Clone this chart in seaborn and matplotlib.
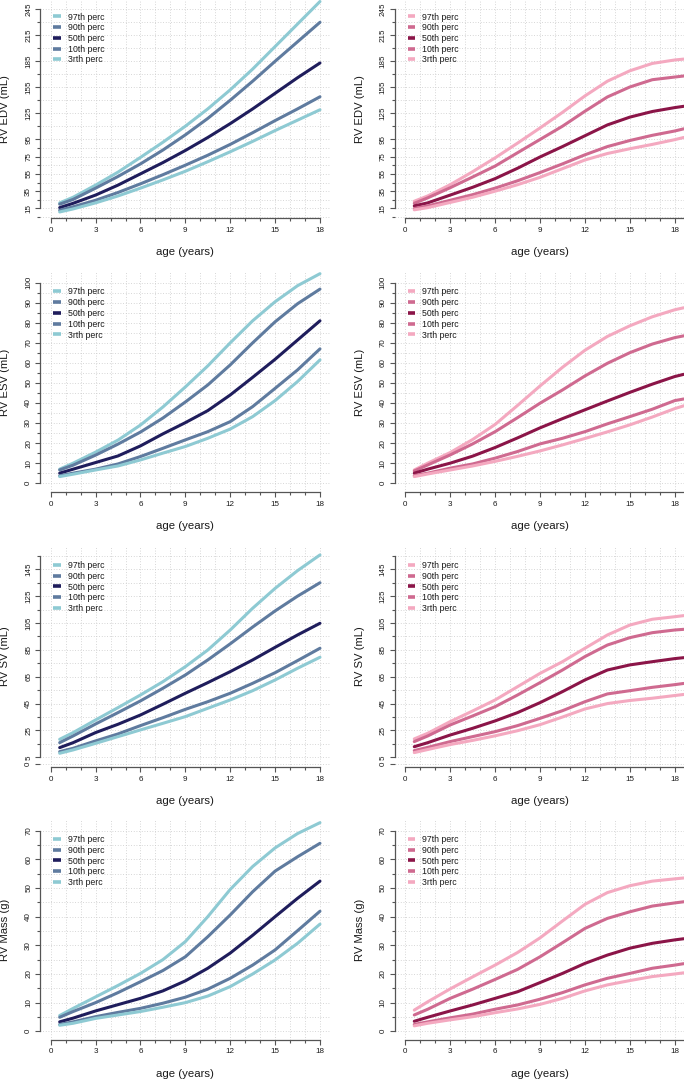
import numpy as np
import pandas as pd
import matplotlib
matplotlib.use("Agg")
import matplotlib.pyplot as plt
import seaborn as sns
from matplotlib.lines import Line2D

sns.set_style("ticks")
plt.rcParams['font.family'] = ['Liberation Sans', 'DejaVu Sans']

# ---------------- data ----------------
percentiles = ["97th perc", "90th perc", "50th perc", "10th perc", "3rth perc"]

age_boys = [0.6, 1.5, 3, 4.5, 6, 7.5, 9, 10.5, 12, 13.5, 15, 16.5, 18]
age_girls = [0.6, 1.5, 3, 4.5, 6, 7.5, 9, 10.5, 12, 13.5, 15, 16.5, 18, 18.6]

# RV EDV (mL)
edv_b_97 = [21.5, 28, 42, 57, 74, 91.5, 110, 130, 152, 176, 202, 228, 254]
edv_b_90 = [20, 25.5, 38.5, 52, 66.5, 82.5, 100, 119, 140, 162, 185, 207.5, 230]
edv_b_50 = [16, 21, 30.5, 42, 55, 68, 82, 97, 113, 130, 148, 166, 183]
edv_b_10 = [13, 17, 24.5, 33.5, 43.5, 54, 65, 76.5, 89, 102.5, 116.5, 130, 144]
edv_b_03 = [11, 14.5, 21.5, 29.5, 38.5, 48, 58, 69, 80.5, 92.5, 105, 117, 129]

edv_g_97 = [23.4, 29.5, 42.5, 57.5, 73.5, 90.5, 108, 126, 145, 162, 174, 182.5, 186.5, 187.5]
edv_g_90 = [21, 27.3, 39, 51.4, 64, 79.4, 94.7, 110, 127.3, 143.8, 155.3, 163.7, 166.8, 168]
edv_g_50 = [18, 21.5, 30.5, 39.5, 49.5, 61.5, 74.5, 86.5, 99, 111.5, 120.5, 127, 131.5, 133]
edv_g_10 = [15, 18, 24.5, 31, 38.5, 47, 56.5, 66.5, 77, 86.5, 93.5, 99.5, 104.5, 107]
edv_g_03 = [13.5, 16, 22, 28, 35, 42.5, 51, 61, 71, 78.5, 84, 89, 94.5, 97]

# RV ESV (mL)
esv_b_97 = [7, 10, 15.5, 21.5, 29, 38, 48, 58.5, 70, 81, 90.5, 98.5, 104.5]
esv_b_90 = [6.6, 9, 14, 19.5, 25.5, 32.5, 40.5, 49, 59, 70, 80.5, 89.5, 96.8]
esv_b_50 = [5, 7, 10.3, 13.6, 18.6, 24.6, 30.2, 36.2, 44, 52.8, 61.8, 71.4, 81]
esv_b_10 = [3.7, 5, 7, 9.6, 13.3, 17.4, 21.6, 25.7, 30.7, 38.2, 47.3, 56.5, 67]
esv_b_03 = [3.3, 4.5, 6.6, 8.6, 11.6, 15, 18.3, 22.4, 27, 33.2, 41.2, 50.7, 61.5]

esv_g_97 = [6.6, 10, 15.3, 21.8, 29.3, 38.8, 48.5, 57.8, 66.3, 73.2, 78.5, 83, 86.5, 87.5]
esv_g_90 = [6.1, 9.1, 14.1, 19.6, 25.7, 32.7, 39.9, 46.5, 53.5, 59.8, 65.1, 69.4, 72.6, 73.5]
esv_g_50 = [5, 7, 10, 13.5, 17.8, 22.6, 27.6, 32.2, 36.6, 41, 45.3, 49.4, 53.2, 54.3]
esv_g_10 = [3.8, 5, 7.5, 9.6, 12.5, 15.8, 19.6, 22.4, 25.7, 29.6, 33.2, 36.9, 41.2, 42]
esv_g_03 = [3.3, 4.6, 6.6, 8.6, 10.9, 13.4, 16.1, 19.1, 22.3, 25.6, 29.1, 33, 37.2, 38.6]

# RV SV (mL)
sv_b_97 = [18.4, 23.4, 32.8, 42, 51.4, 61.3, 72.5, 84.9, 99.8, 116, 130.8, 144, 155.7]
sv_b_90 = [15.9, 20.9, 29.8, 38.3, 47, 56.4, 66.3, 77.5, 89.5, 102, 114, 125, 135]
sv_b_50 = [12.2, 15.9, 23.4, 29.6, 36.5, 44.5, 52.7, 60.6, 68.8, 77.5, 86.9, 96.1, 104.8]
sv_b_10 = [9.2, 11.7, 17.2, 22.4, 28.6, 34.5, 40.7, 46.4, 52.7, 60.1, 68, 77, 86.2]
sv_b_03 = [8, 10.5, 15.4, 20.4, 25.4, 30.3, 35.3, 41.5, 47.7, 54.6, 62.6, 71.3, 79.5]

sv_g_97 = [18.7, 22.9, 31.6, 39.5, 47.7, 57.6, 67.5, 76.2, 86.2, 96.1, 103.5, 107.8, 109.7, 110.5]
sv_g_90 = [16.7, 20.9, 29.1, 35.8, 42.7, 51.4, 60.6, 70, 80, 88.6, 94.1, 97.8, 99.8, 100.3]
sv_g_50 = [12.9, 15.9, 21.6, 26.6, 32.1, 38.3, 45.7, 53.9, 62.6, 70, 73.8, 76.2, 78.5, 79.2]
sv_g_10 = [10, 12.4, 16.7, 20.4, 24.1, 28.6, 34, 39.7, 46.4, 52.2, 54.6, 57.1, 59.1, 60]
sv_g_03 = [8.5, 10.8, 14.5, 17.6, 21, 24.8, 29.3, 35, 41, 45, 47.3, 49, 51, 51.8]

# RV Mass (g)
mass_b_97 = [5.5, 8, 12, 16, 20.2, 25, 31.3, 40, 49.5, 57.5, 64, 69, 72.8]
mass_b_90 = [4.9, 6.9, 10, 13.5, 17.3, 21.2, 26, 33, 40.6, 48.7, 55.9, 60.9, 65.6]
mass_b_50 = [3.3, 4.6, 7.1, 9.3, 11.5, 14.1, 17.6, 22, 27.3, 33.5, 40, 46.4, 52.4]
mass_b_10 = [2.4, 3.3, 5.1, 6.6, 8, 9.8, 11.9, 14.7, 18.5, 23.1, 28.4, 35.1, 41.9]
mass_b_03 = [2.1, 2.8, 4.5, 5.7, 6.9, 8.4, 10, 12.3, 15.6, 20, 24.9, 30.7, 37.4]

mass_g_97 = [7.4, 10.3, 14.8, 19, 23.1, 27.5, 32.6, 38.5, 44.3, 48.4, 50.8, 52.4, 53.2, 53.5]
mass_g_90 = [5.7, 7.7, 11.5, 14.7, 18.1, 21.6, 26, 30.9, 35.9, 39.4, 41.7, 43.7, 44.8, 45.2]
mass_g_50 = [3.5, 4.9, 7.1, 9.2, 11.5, 13.8, 17, 20.2, 23.7, 26.6, 29, 30.7, 31.9, 32.3]
mass_g_10 = [2.4, 3.3, 4.7, 6, 7.7, 9.2, 11.2, 13.5, 16.2, 18.5, 20.2, 22, 23.1, 23.6]
mass_g_03 = [1.9, 2.8, 4, 5.1, 6.5, 7.8, 9.4, 11.5, 14.1, 16.2, 17.7, 19.1, 20, 20.4]

ylabels = ["RV EDV (mL)", "RV ESV (mL)", "RV SV (mL)", "RV Mass (g)"]
xlabel = "age (years)"
xticks_major = [0, 3, 6, 9, 12, 15, 18]

edv_ticks = [15, 35, 55, 75, 95, 125, 155, 185, 215, 245]
edv_minor = [5, 25, 45, 65, 85, 110, 140, 170, 200, 230]
esv_ticks = [0, 10, 20, 30, 40, 50, 60, 70, 80, 90, 100]
esv_minor = [5, 15, 25, 35, 45, 55, 65, 75, 85, 95]
sv_ticks = [0, 5, 25, 45, 65, 85, 105, 125, 145]
sv_minor = [15, 35, 55, 75, 95, 115, 135, 155]
mass_ticks = [0, 10, 20, 30, 40, 50, 60, 70]
mass_minor = [5, 15, 25, 35, 45, 55, 65]

blue_pal = {"97th perc": "#8ecad3", "90th perc": "#5f7b9f", "50th perc": "#1f1d5c",
            "10th perc": "#5f7b9f", "3rth perc": "#8ecad3"}
pink_pal = {"97th perc": "#f4a9c0", "90th perc": "#cf6a90", "50th perc": "#8b1548",
            "10th perc": "#cf6a90", "3rth perc": "#f4a9c0"}

boys = [[edv_b_97, edv_b_90, edv_b_50, edv_b_10, edv_b_03],
        [esv_b_97, esv_b_90, esv_b_50, esv_b_10, esv_b_03],
        [sv_b_97, sv_b_90, sv_b_50, sv_b_10, sv_b_03],
        [mass_b_97, mass_b_90, mass_b_50, mass_b_10, mass_b_03]]
girls = [[edv_g_97, edv_g_90, edv_g_50, edv_g_10, edv_g_03],
         [esv_g_97, esv_g_90, esv_g_50, esv_g_10, esv_g_03],
         [sv_g_97, sv_g_90, sv_g_50, sv_g_10, sv_g_03],
         [mass_g_97, mass_g_90, mass_g_50, mass_g_10, mass_g_03]]
yticks = [edv_ticks, esv_ticks, sv_ticks, mass_ticks]
yminor = [edv_minor, esv_minor, sv_minor, mass_minor]
spine_bounds = [(15, 245), (0, 100), (5, 155), (0, 70)]

# ---------------- layout (pixels) ----------------
W, H = 684, 1080
col_x0 = [50.7, 405.3]
col_sx = [14.96, 14.97]
# (v1, px1, v2, px2, bottom_px, top_px)
row_map = [(15, 208.5, 245, 9.3, 218.2, 0.0),
           (0, 483.2, 100, 282.7, 492.3, 272.0),
           (5, 757.3, 145, 569.3, 767.0, 546.0),
           (0, 1031.3, 70, 830.7, 1039.7, 820.0)]
legend_top = [12.5, 287.5, 561.0, 835.0]

fig = plt.figure(figsize=(W / 100, H / 100), dpi=100)
axis_col = "#555555"
text_col = "#1a1a1a"

for r in range(4):
    v1, p1, v2, p2, bpx, tpx = row_map[r]
    sc = (p1 - p2) / (v2 - v1)
    ylo = v1 - (bpx - p1) / sc
    yhi = v2 + (p2 - tpx) / sc
    for c in range(2):
        x0, sx = col_x0[c], col_sx[c]
        lpx = x0 - 0.72 * sx
        wpx = 19.44 * sx
        hpx = bpx - tpx
        ax = fig.add_axes([lpx / W, 1 - bpx / H, wpx / W, hpx / H])
        ages = age_boys if c == 0 else age_girls
        series = boys[r] if c == 0 else girls[r]
        pal = blue_pal if c == 0 else pink_pal
        frames = []
        for p, vals in zip(percentiles, series):
            frames.append(pd.DataFrame({"age": ages, "value": vals, "perc": p}))
        df = pd.concat(frames, ignore_index=True)
        sns.lineplot(data=df, x="age", y="value", hue="perc", hue_order=percentiles,
                     palette=pal, estimator=None, sort=True, linewidth=2.2,
                     legend=False, ax=ax)
        for ln in ax.get_lines():
            ln.set_solid_joinstyle("round")

        ax.set_xticks(xticks_major)
        ax.set_xticks(list(range(0, 21)), minor=True)
        ax.set_yticks(yticks[r])
        ax.set_yticklabels([str(t) for t in yticks[r]])
        ax.set_yticks(yminor[r], minor=True)
        ax.set_xlim(-0.72, 18.72)
        ax.set_ylim(ylo, yhi)
        ax.grid(which="both", color="#c9c9c9", linestyle=(0, (1, 2.2)), linewidth=0.6)
        ax.set_axisbelow(True)

        for s in ["top", "right"]:
            ax.spines[s].set_visible(False)
        ax.spines["left"].set_bounds(*spine_bounds[r])
        ax.spines["bottom"].set_bounds(0, 18 if c == 0 else 20)
        for s in ["left", "bottom"]:
            ax.spines[s].set_color(axis_col)
            ax.spines[s].set_linewidth(0.9)

        ax.tick_params(which="major", length=3.6, width=0.8, color=axis_col,
                       labelsize=5.8, labelcolor=text_col, direction="out")
        ax.tick_params(which="minor", length=2.0, width=0.8, color=axis_col,
                       direction="out")
        ax.tick_params(axis="x", which="major", pad=2.6)
        ax.tick_params(axis="y", which="major", pad=2.0, labelrotation=90)
        for lab in ax.get_yticklabels():
            lab.set_va("center")

        ax.set_xlabel(xlabel, fontsize=8.2, color=text_col, va="center")
        ax.xaxis.set_label_coords(0.5, -34.0 / hpx)
        ax.set_ylabel(ylabels[r], fontsize=8.1, color=text_col, va="center")
        ax.yaxis.set_label_coords(-35.0 / wpx, 0.5)

        handles = [Line2D([], [], color=pal[p], lw=2.6, solid_capstyle="butt")
                   for p in percentiles]
        ax.legend(handles, percentiles, loc="upper left",
                  bbox_to_anchor=((lpx + 13) / W, 1 - legend_top[r] / H),
                  bbox_transform=fig.transFigure, frameon=False, fontsize=6.3,
                  handlelength=0.9, handletextpad=0.8, labelspacing=0.2,
                  borderpad=0, borderaxespad=0, labelcolor=text_col)

fig.savefig("out.png", dpi=100)
